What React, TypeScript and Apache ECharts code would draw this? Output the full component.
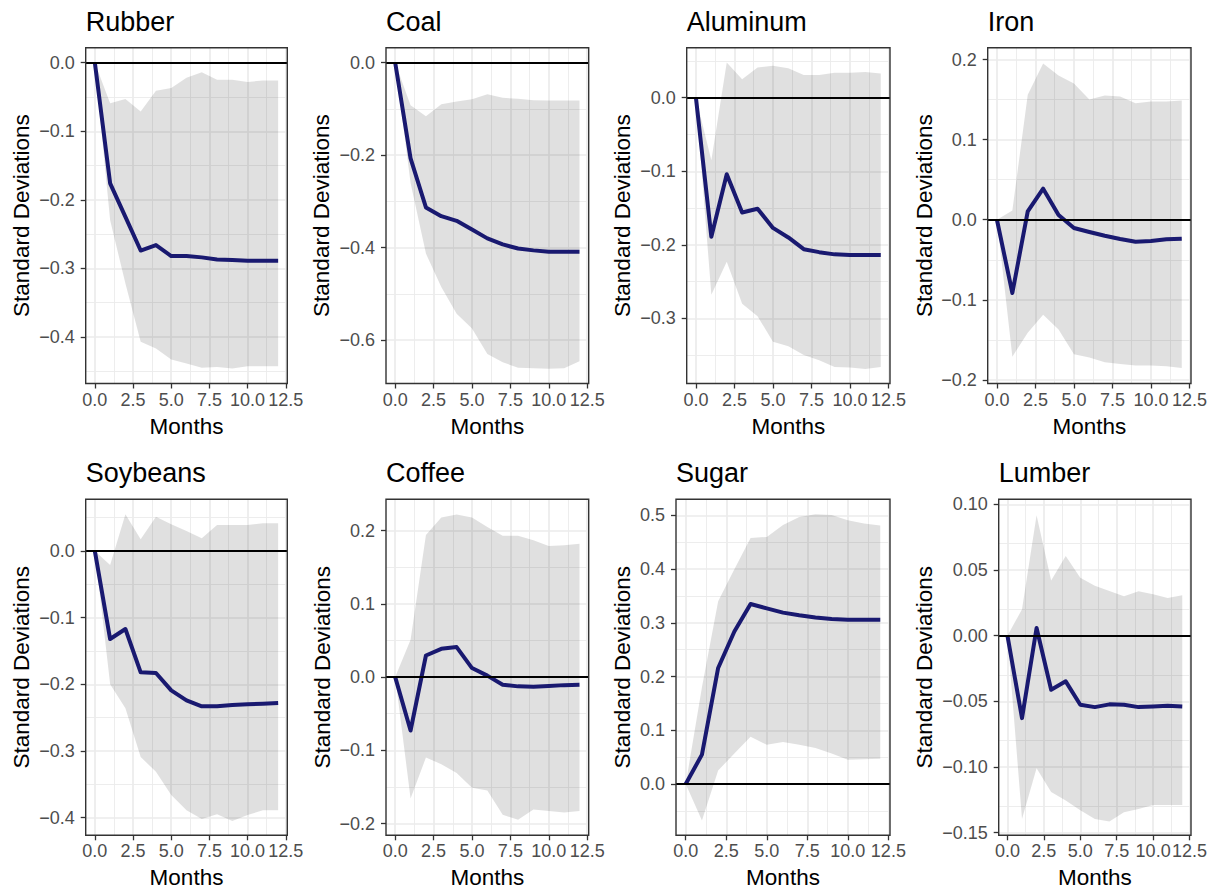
import React, { useEffect, useRef } from "react";
import * as echarts from "echarts";

// ---------------- data ----------------
const months = [0, 1, 2, 3, 4, 5, 6, 7, 8, 9, 10, 11, 12];
const xTicks = [0, 2.5, 5, 7.5, 10, 12.5];

const rubberIrf = [0, -0.176, -0.225, -0.274, -0.266, -0.282, -0.282, -0.284, -0.287, -0.288, -0.289, -0.289, -0.289];
const rubberLower = [0, -0.23, -0.322, -0.407, -0.417, -0.433, -0.439, -0.445, -0.444, -0.446, -0.443, -0.443, -0.443];
const rubberUpper = [0, -0.059, -0.053, -0.071, -0.041, -0.037, -0.022, -0.014, -0.025, -0.025, -0.028, -0.026, -0.026];
const rubberTicks = [-0.4, -0.3, -0.2, -0.1, 0];

const coalIrf = [0, -0.207, -0.313, -0.332, -0.342, -0.361, -0.38, -0.393, -0.402, -0.406, -0.409, -0.409, -0.409];
const coalLower = [0, -0.26, -0.413, -0.485, -0.543, -0.575, -0.63, -0.648, -0.66, -0.661, -0.662, -0.661, -0.646];
const coalUpper = [0, -0.092, -0.116, -0.09, -0.084, -0.079, -0.068, -0.076, -0.078, -0.081, -0.082, -0.082, -0.082];
const coalTicks = [-0.6, -0.4, -0.2, 0];

const aluminumIrf = [0, -0.189, -0.104, -0.156, -0.151, -0.177, -0.19, -0.206, -0.21, -0.213, -0.214, -0.214, -0.214];
const aluminumLower = [0, -0.268, -0.223, -0.28, -0.297, -0.332, -0.338, -0.35, -0.357, -0.366, -0.367, -0.369, -0.366];
const aluminumUpper = [0, -0.085, 0.048, 0.025, 0.041, 0.0435, 0.04, 0.031, 0.031, 0.034, 0.034, 0.035, 0.033];
const aluminumTicks = [-0.3, -0.2, -0.1, 0];

const ironIrf = [0, -0.0915, 0.0104, 0.0387, 0.006, -0.0104, -0.0154, -0.02, -0.024, -0.0274, -0.0266, -0.0245, -0.0237];
const ironLower = [0, -0.171, -0.141, -0.1185, -0.137, -0.168, -0.172, -0.178, -0.18, -0.182, -0.182, -0.183, -0.185];
const ironUpper = [0, 0.0116, 0.156, 0.195, 0.18, 0.17, 0.15, 0.155, 0.154, 0.1455, 0.1476, 0.1476, 0.149];
const ironTicks = [-0.2, -0.1, 0, 0.1, 0.2];

const soybeansIrf = [0, -0.132, -0.117, -0.182, -0.183, -0.209, -0.224, -0.233, -0.233, -0.231, -0.23, -0.229, -0.228];
const soybeansLower = [0, -0.2, -0.236, -0.309, -0.331, -0.366, -0.389, -0.402, -0.395, -0.405, -0.396, -0.389, -0.389];
const soybeansUpper = [0, -0.021, 0.055, 0.0175, 0.0516, 0.04, 0.03, 0.019, 0.039, 0.039, 0.039, 0.0415, 0.0415];
const soybeansTicks = [-0.4, -0.3, -0.2, -0.1, 0];

const coffeeIrf = [0, -0.073, 0.0295, 0.0386, 0.041, 0.0123, 0.002, -0.0105, -0.0127, -0.0132, -0.0123, -0.011, -0.0105];
const coffeeLower = [0, -0.166, -0.11, -0.119, -0.131, -0.151, -0.155, -0.188, -0.195, -0.181, -0.183, -0.185, -0.183];
const coffeeUpper = [0, 0.051, 0.194, 0.218, 0.222, 0.218, 0.205, 0.193, 0.193, 0.187, 0.179, 0.18, 0.182];
const coffeeTicks = [-0.2, -0.1, 0, 0.1, 0.2];

const sugarIrf = [0, 0.0547, 0.216, 0.284, 0.335, 0.327, 0.319, 0.314, 0.31, 0.307, 0.3056, 0.3056, 0.3056];
const sugarLower = [0, -0.068, 0.025, 0.057, 0.088, 0.073, 0.078, 0.073, 0.067, 0.057, 0.045, 0.046, 0.047];
const sugarUpper = [0, 0.18, 0.34, 0.4, 0.458, 0.46, 0.482, 0.497, 0.502, 0.501, 0.491, 0.485, 0.481];
const sugarTicks = [0, 0.1, 0.2, 0.3, 0.4, 0.5];

const lumberIrf = [0, -0.0628, 0.0058, -0.0412, -0.0348, -0.0526, -0.0544, -0.0523, -0.0526, -0.0544, -0.0539, -0.0534, -0.0539];
const lumberLower = [0, -0.1395, -0.101, -0.119, -0.1255, -0.133, -0.1395, -0.1415, -0.1344, -0.132, -0.129, -0.129, -0.129];
const lumberUpper = [0, 0.02, 0.0917, 0.042, 0.0607, 0.044, 0.0379, 0.034, 0.03, 0.0338, 0.0315, 0.0287, 0.0307];
const lumberTicks = [-0.15, -0.1, -0.05, 0, 0.05, 0.1];

const panels = [
  { name: "Rubber", irf: rubberIrf, lower: rubberLower, upper: rubberUpper, ticks: rubberTicks, dec: 1, yMin: -0.468, yMax: 0.0219 },
  { name: "Coal", irf: coalIrf, lower: coalLower, upper: coalUpper, ticks: coalTicks, dec: 1, yMin: -0.694, yMax: 0.0325 },
  { name: "Aluminum", irf: aluminumIrf, lower: aluminumLower, upper: aluminumUpper, ticks: aluminumTicks, dec: 1, yMin: -0.3886, yMax: 0.068 },
  { name: "Iron", irf: ironIrf, lower: ironLower, upper: ironUpper, ticks: ironTicks, dec: 1, yMin: -0.2045, yMax: 0.2148 },
  { name: "Soybeans", irf: soybeansIrf, lower: soybeansLower, upper: soybeansUpper, ticks: soybeansTicks, dec: 1, yMin: -0.4264, yMax: 0.0776 },
  { name: "Coffee", irf: coffeeIrf, lower: coffeeLower, upper: coffeeUpper, ticks: coffeeTicks, dec: 1, yMin: -0.2161, yMax: 0.2428 },
  { name: "Sugar", irf: sugarIrf, lower: sugarLower, upper: sugarUpper, ticks: sugarTicks, dec: 1, yMin: -0.0955, yMax: 0.53 },
  { name: "Lumber", irf: lumberIrf, lower: lumberLower, upper: lumberUpper, ticks: lumberTicks, dec: 2, yMin: -0.152, yMax: 0.1038 },
];

// ---------------- layout ----------------
const layout = [
  { l: 85.7, r: 287.3, t: 47.7, b: 383.5, nameX: 28.3 },
  { l: 386, r: 588.7, t: 47.7, b: 383.5, nameX: 328.3 },
  { l: 686.7, r: 890, t: 47.7, b: 383.5, nameX: 629.3 },
  { l: 987.7, r: 1191, t: 47.7, b: 383.5, nameX: 931 },
  { l: 85.7, r: 287.3, t: 499.3, b: 835.3, nameX: 28.3 },
  { l: 386, r: 588.7, t: 499.3, b: 835.3, nameX: 329.3 },
  { l: 676, r: 890, t: 499.3, b: 835.3, nameX: 629.3 },
  { l: 998.7, r: 1191, t: 499.3, b: 835.3, nameX: 931 },
];

const FONT = "'Liberation Sans', Arial, Helvetica, sans-serif";
const X_MIN = -0.6;
const X_MAX = 12.6;
const GRID_COLOR = "#ebebeb";

const fmt = (v: number, d: number) => {
  const r = Number(v.toFixed(d));
  const s = Math.abs(r).toFixed(d);
  return r < 0 ? "\u2212" + s : s;
};

const minorOf = (ticks: number[], min: number, max: number) => {
  const step = ticks[1] - ticks[0];
  const out: number[] = [];
  for (let i = -1; i < ticks.length; i++) {
    const v = ticks[0] + step * (i + 0.5);
    if (v > min && v < max) out.push(v);
  }
  return out;
};

function buildOption() {
  const grids: any[] = [];
  const xAxes: any[] = [];
  const yAxes: any[] = [];
  const titles: any[] = [];
  const series: any[] = [];

  panels.forEach((p, i) => {
    const g = layout[i];
    grids.push({
      left: g.l,
      top: g.t,
      width: g.r - g.l,
      height: g.b - g.t,
      show: true,
      z: 10,
      backgroundColor: "transparent",
      borderColor: "#333333",
      borderWidth: 1.4,
    });
    titles.push({
      text: p.name,
      left: g.l,
      top: g.t < 100 ? 8 : 459.6,
      padding: 0,
      textStyle: { fontSize: 27, fontWeight: "normal", color: "#000", fontFamily: FONT },
    });
    xAxes.push({
      gridIndex: i,
      type: "value",
      min: X_MIN,
      max: X_MAX,
      axisLine: { show: false, onZero: false },
      axisTick: { show: true, length: 5, customValues: xTicks, lineStyle: { color: "#333333", width: 1.3 } },
      axisLabel: {
        customValues: xTicks,
        formatter: (v: number) => v.toFixed(1),
        color: "#4d4d4d",
        fontSize: 18,
        margin: 7,
        fontFamily: FONT,
      },
      splitLine: { show: false },
      name: "Months",
      nameLocation: "middle",
      nameGap: 31,
      nameTextStyle: { color: "#000", fontSize: 22.5, fontFamily: FONT },
    });
    yAxes.push({
      gridIndex: i,
      type: "value",
      min: p.yMin,
      max: p.yMax,
      axisLine: { show: false, onZero: false },
      axisTick: { show: true, length: 5, customValues: p.ticks, lineStyle: { color: "#333333", width: 1.3 } },
      axisLabel: {
        customValues: p.ticks,
        formatter: (v: number) => fmt(v, p.dec),
        color: "#4d4d4d",
        fontSize: 18,
        margin: 11,
        fontFamily: FONT,
      },
      splitLine: { show: false },
      name: "Standard Deviations",
      nameLocation: "middle",
      nameGap: g.l - g.nameX - 4.5,
      nameTextStyle: { color: "#000", fontSize: 22.5, fontFamily: FONT },
    });

    const gridLines: any[] = [];
    minorOf(xTicks, X_MIN, X_MAX).forEach((v) =>
      gridLines.push({ xAxis: v, lineStyle: { color: GRID_COLOR, width: 0.9, type: "solid" } })
    );
    minorOf(p.ticks, p.yMin, p.yMax).forEach((v) =>
      gridLines.push({ yAxis: v, lineStyle: { color: GRID_COLOR, width: 0.9, type: "solid" } })
    );
    xTicks.forEach((v) => gridLines.push({ xAxis: v, lineStyle: { color: GRID_COLOR, width: 1.7, type: "solid" } }));
    p.ticks.forEach((v) => gridLines.push({ yAxis: v, lineStyle: { color: GRID_COLOR, width: 1.7, type: "solid" } }));

    // invisible carrier series for the panel grid lines
    series.push({
      type: "line",
      xAxisIndex: i,
      yAxisIndex: i,
      data: months.map((m, k) => [m, p.irf[k]]),
      showSymbol: false,
      symbol: "none",
      lineStyle: { opacity: 0, width: 0 },
      silent: true,
      z: 1,
      markLine: {
        silent: true,
        z: 1,
        symbol: ["none", "none"],
        label: { show: false },
        emphasis: { disabled: true },
        data: gridLines,
      },
    });
    // confidence ribbon drawn as one polygon through the axis scales
    series.push({
      type: "custom",
      xAxisIndex: i,
      yAxisIndex: i,
      data: months.map((m, k) => [m, p.lower[k], p.upper[k]]),
      encode: { x: 0, y: [1, 2] },
      silent: true,
      z: 2,
      renderItem: (params: any, api: any) => {
        if (params.dataIndex !== 0) return null;
        const pts: number[][] = [];
        for (let k = 0; k < months.length; k++) pts.push(api.coord([months[k], p.upper[k]]));
        for (let k = months.length - 1; k >= 0; k--) pts.push(api.coord([months[k], p.lower[k]]));
        return {
          type: "polygon",
          shape: { points: pts },
          style: { fill: "rgba(0,0,0,0.12)", stroke: "none" },
          silent: true,
        };
      },
    });
    // impulse response line + zero line
    series.push({
      type: "line",
      xAxisIndex: i,
      yAxisIndex: i,
      data: months.map((m, k) => [m, p.irf[k]]),
      showSymbol: false,
      symbol: "none",
      lineStyle: { color: "#191970", width: 4, join: "round", cap: "butt" },
      silent: true,
      z: 3,
      markLine: {
        silent: true,
        z: 4,
        symbol: ["none", "none"],
        label: { show: false },
        emphasis: { disabled: true },
        data: [{ yAxis: 0, lineStyle: { color: "#000000", width: 1.8, type: "solid" } }],
      },
    });
  });

  return {
    animation: false,
    backgroundColor: "#ffffff",
    textStyle: { fontFamily: FONT },
    title: titles,
    grid: grids,
    xAxis: xAxes,
    yAxis: yAxes,
    series,
  };
}

export default function App() {
  const ref = useRef<HTMLDivElement>(null);
  useEffect(() => {
    if (!ref.current) return;
    const chart = echarts.init(ref.current, undefined, { renderer: "svg" });
    chart.setOption(buildOption() as any);
    return () => chart.dispose();
  }, []);
  return (
    <div
      ref={ref}
      style={{ position: "absolute", left: 0, top: 0, width: 1215, height: 894, background: "#fff" }}
    />
  );
}
